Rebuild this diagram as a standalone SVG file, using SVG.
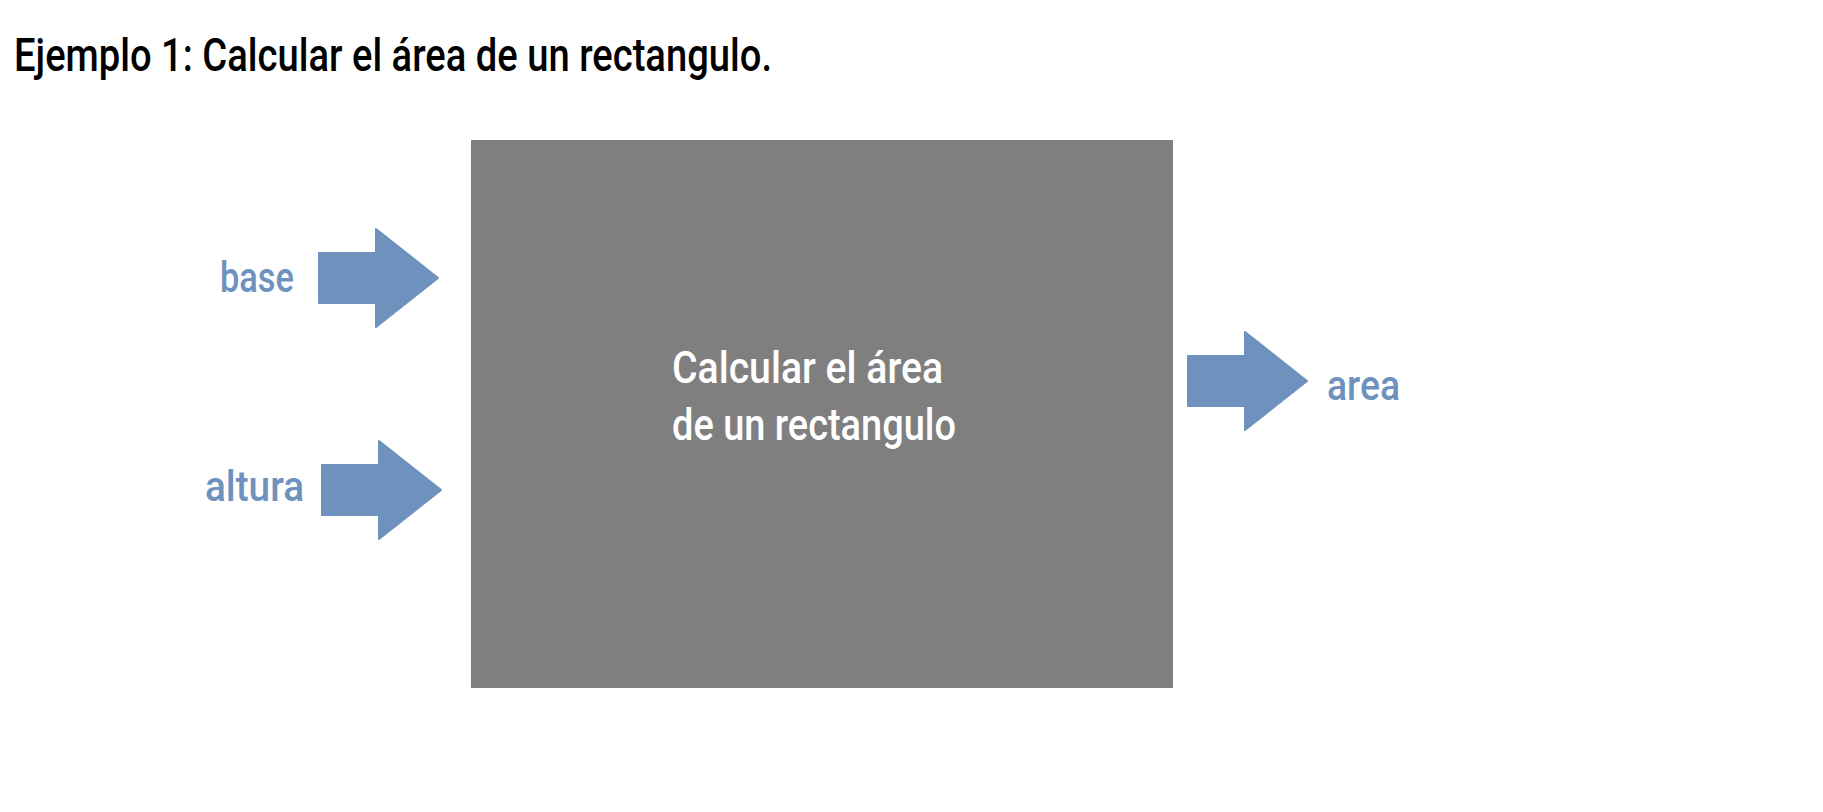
<svg xmlns="http://www.w3.org/2000/svg" width="1823" height="812" viewBox="0 0 1823 812">
<style>
text{font-family:"Roboto","Liberation Sans",sans-serif;}
.title{font-size:46px;font-weight:500;fill:#000;}
.box{font-size:45px;font-weight:500;fill:#fff;}
.lbl{font-size:43px;font-weight:500;fill:#6E91BE;}
.arrow{fill:#6E91BE;stroke:#6E91BE;stroke-width:2;stroke-linejoin:round;}
</style>
<rect width="1823" height="812" fill="#fff"/>
<text class="title" x="14" y="71" textLength="758" lengthAdjust="spacingAndGlyphs">Ejemplo 1: Calcular el área de un rectangulo.</text>
<g id="process">
<rect x="471" y="140" width="702" height="548" fill="#7F7F7F"/>
<text class="box" x="672" y="383" textLength="271" lengthAdjust="spacingAndGlyphs">Calcular el área</text>
<text class="box" x="672" y="440" textLength="284" lengthAdjust="spacingAndGlyphs">de un rectangulo</text>
</g>
<g id="base">
<text class="lbl" x="220" y="292" textLength="74" lengthAdjust="spacingAndGlyphs">base</text>
</g>
<g id="altura">
<text class="lbl" x="205" y="501" textLength="99" lengthAdjust="spacingAndGlyphs">altura</text>
</g>
<g id="area">
<text class="lbl" x="1327" y="400" textLength="73" lengthAdjust="spacingAndGlyphs">area</text>
</g>
<g id="connectors">
<path class="arrow" d="M319,253 H376 V229 L438,278 L376,327 V303 H319 Z"/>
<path class="arrow" d="M322,465 H379 V441 L441,490 L379,539 V515 H322 Z"/>
<path class="arrow" d="M1188,356 H1245 V332 L1307,381 L1245,430 V406 H1188 Z"/>
</g>
</svg>
